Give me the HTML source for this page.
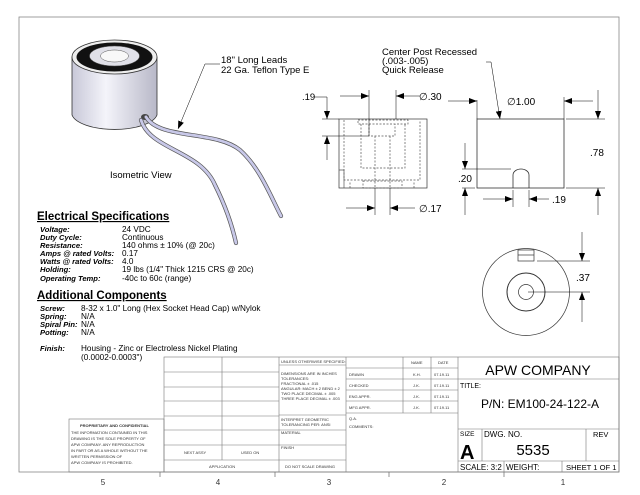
<!DOCTYPE html>
<html><head><meta charset="utf-8"><style>
body{margin:0;background:#fff}
svg{display:block;font-family:"Liberation Sans",sans-serif}
.t{font-size:4px;fill:#333}
</style></head><body>
<svg width="640" height="495" viewBox="0 0 640 495" xmlns="http://www.w3.org/2000/svg">
<defs>
<linearGradient id="cyl" x1="0" x2="1"><stop offset="0" stop-color="#c8c8d8"/><stop offset="0.4" stop-color="#f4f4fa"/><stop offset="1" stop-color="#b8b8c8"/></linearGradient>
<marker id="ar" markerWidth="8" markerHeight="6" refX="8" refY="3" orient="auto" markerUnits="userSpaceOnUse"><path d="M0,0L8,3L0,6z" fill="#000"/></marker>
</defs>
<rect x="19" y="17" width="600" height="455" fill="none" stroke="#888" stroke-width="0.8"/>
<g stroke="#666" stroke-width="0.7"><line x1="160" y1="472" x2="160" y2="477"/><line x1="275" y1="472" x2="275" y2="477"/><line x1="389" y1="472" x2="389" y2="477"/><line x1="504" y1="472" x2="504" y2="477"/></g>
<g font-size="8" fill="#333" text-anchor="middle"><text x="103" y="485">5</text><text x="218" y="485">4</text><text x="329" y="485">3</text><text x="444" y="485">2</text><text x="563" y="485">1</text></g>

<path d="M72,57 L72,115 A43,17 0 0 0 157,115 L157,57 Z" fill="url(#cyl)" stroke="#333" stroke-width="0.8"/>
<ellipse cx="114.5" cy="57" rx="42.5" ry="17" fill="#eee" stroke="#333" stroke-width="0.8"/>
<ellipse cx="114.5" cy="57" rx="38" ry="14.5" fill="#111"/>
<ellipse cx="114.5" cy="56" rx="25" ry="10" fill="#e0e0e8" stroke="#555" stroke-width="0.5"/>
<ellipse cx="114.5" cy="56" rx="14" ry="6" fill="#f8f8f8" stroke="#555" stroke-width="0.5"/>
<ellipse cx="145" cy="117" rx="4" ry="3" fill="#444"/>
<path d="M141,120 C150,150 200,150 215,185 C225,205 232,225 236,243" fill="none" stroke="#555" stroke-width="4.2" stroke-linecap="round"/>
<path d="M141,120 C150,150 200,150 215,185 C225,205 232,225 236,243" fill="none" stroke="#c8c8e8" stroke-width="2.8" stroke-linecap="round"/>
<path d="M146,117 C160,140 215,130 240,150 C260,168 270,195 281,216" fill="none" stroke="#555" stroke-width="4.2" stroke-linecap="round"/>
<path d="M146,117 C160,140 215,130 240,150 C260,168 270,195 281,216" fill="none" stroke="#c8c8e8" stroke-width="2.8" stroke-linecap="round"/>
<polyline points="220,64 205,64 178,129" fill="none" stroke="#000" stroke-width="0.5" marker-end="url(#ar)"/>
<text x="221" y="63" font-size="9.5">18" Long Leads</text>
<text x="221" y="73" font-size="9.5">22 Ga. Teflon Type E</text>
<text x="110" y="178" font-size="9.5">Isometric View</text>

<g fill="none" stroke="#333" stroke-width="0.7">
<rect x="339" y="119" width="88" height="69"/>
<g stroke-dasharray="2,1.5" stroke="#555">
<rect x="358" y="120" width="50" height="4"/>
<polyline points="361,124 361,168 405,168 405,124"/>
<polyline points="369,124 369,136 395,136 395,124"/>
<polyline points="375,136 375,187"/><polyline points="390,136 390,187"/>
<polyline points="344,120 344,180 420,180 420,120"/>
<polyline points="350,188 350,181"/><polyline points="414,188 414,181"/>
<rect x="363" y="181" width="39" height="7"/>
</g>
<polyline points="339,170 344,170 344,188" stroke="#555"/>
</g>
<g stroke="#000" stroke-width="0.5" fill="none">
<line x1="369" y1="90" x2="369" y2="136"/><line x1="396" y1="90" x2="396" y2="119"/>
<line x1="340" y1="96" x2="369" y2="96" marker-end="url(#ar)"/><line x1="420" y1="96" x2="396" y2="96" marker-end="url(#ar)"/>
<line x1="322" y1="119" x2="339" y2="119"/><line x1="322" y1="136" x2="369" y2="136"/>
<polyline points="314,97 327,97 327,119" marker-end="url(#ar)"/><line x1="327" y1="160" x2="327" y2="136" marker-end="url(#ar)"/>
<line x1="375" y1="188" x2="375" y2="215"/><line x1="390" y1="188" x2="390" y2="215"/>
<line x1="346" y1="208" x2="375" y2="208" marker-end="url(#ar)"/><line x1="415" y1="208" x2="390" y2="208" marker-end="url(#ar)"/>
</g>
<text x="302" y="100" font-size="9.5">.19</text>
<text x="419" y="100" font-size="10">∅.30</text>
<text x="419" y="212" font-size="10">∅.17</text>

<g fill="none" stroke="#333" stroke-width="0.8">
<rect x="477" y="119" width="87" height="69"/>
<path d="M513,188 L513,175 A8,6 0 0 1 529,175 L529,188"/>
</g>
<g stroke="#000" stroke-width="0.5" fill="none">
<line x1="477" y1="100" x2="477" y2="119"/><line x1="564" y1="97" x2="564" y2="119"/>
<line x1="448" y1="101" x2="477" y2="101" marker-end="url(#ar)"/><line x1="593" y1="101" x2="564" y2="101" marker-end="url(#ar)"/>
<line x1="566" y1="119" x2="605" y2="119"/><line x1="566" y1="188" x2="605" y2="188"/>
<line x1="598" y1="90" x2="598" y2="119" marker-end="url(#ar)"/><line x1="598" y1="215" x2="598" y2="188" marker-end="url(#ar)"/>
<line x1="462" y1="169" x2="511" y2="169"/><line x1="462" y1="188" x2="475" y2="188"/>
<line x1="465" y1="143" x2="465" y2="169" marker-end="url(#ar)"/><line x1="465" y1="215" x2="465" y2="188" marker-end="url(#ar)"/>
<line x1="513" y1="190" x2="513" y2="207"/><line x1="529" y1="190" x2="529" y2="207"/>
<line x1="483" y1="199" x2="513" y2="199" marker-end="url(#ar)"/><line x1="549" y1="199" x2="529" y2="199" marker-end="url(#ar)"/>
<polyline points="486,62 491,62 500,119" marker-end="url(#ar)"/>
</g>
<text x="382" y="55" font-size="9.5">Center Post Recessed</text>
<text x="382" y="64" font-size="9.5">(.003-.005)</text>
<text x="382" y="73" font-size="9.5">Quick Release</text>
<text x="507" y="105" font-size="10">∅1.00</text>
<text x="590" y="156" font-size="10">.78</text>
<text x="458" y="182" font-size="10">.20</text>
<text x="552" y="203" font-size="10">.19</text>

<g fill="none" stroke="#333" stroke-width="0.7">
<circle cx="526" cy="292" r="43.5"/>
<circle cx="526" cy="292" r="19" stroke-width="1"/>
<circle cx="526" cy="292" r="7.5"/>
<rect x="518" y="250" width="16" height="11"/><line x1="518" y1="255" x2="534" y2="255"/>
</g>
<g stroke="#000" stroke-width="0.5" fill="none">
<line x1="537" y1="261" x2="590" y2="261"/><line x1="528" y1="292" x2="590" y2="292"/>
<line x1="582" y1="232" x2="582" y2="261" marker-end="url(#ar)"/><line x1="582" y1="322" x2="582" y2="292" marker-end="url(#ar)"/>
</g>
<text x="576" y="281" font-size="10">.37</text>

<text x="37" y="220" font-size="11.5" font-weight="bold" text-decoration="underline">Electrical Specifications</text>
<g font-size="7.6" font-weight="bold" font-style="italic">
<text x="40" y="232">Voltage:</text><text x="40" y="240">Duty Cycle:</text><text x="40" y="248">Resistance:</text><text x="40" y="256">Amps @ rated Volts:</text><text x="40" y="264">Watts @ rated Volts:</text><text x="40" y="272">Holding:</text><text x="40" y="281">Operating Temp:</text>
</g>
<g font-size="8.2">
<text x="122" y="232">24 VDC</text><text x="122" y="240">Continuous</text><text x="122" y="248">140 ohms ± 10% (@ 20c)</text><text x="122" y="256">0.17</text><text x="122" y="264">4.0</text><text x="122" y="272">19 lbs (1/4" Thick 1215 CRS @ 20c)</text><text x="122" y="281">-40c to 60c (range)</text>
</g>
<text x="37" y="299" font-size="11.5" font-weight="bold" text-decoration="underline">Additional Components</text>
<g font-size="7.6" font-weight="bold" font-style="italic">
<text x="40" y="311">Screw:</text><text x="40" y="319">Spring:</text><text x="40" y="327">Spiral Pin:</text><text x="40" y="335">Potting:</text><text x="40" y="351">Finish:</text>
</g>
<g font-size="8.2">
<text x="81" y="311">8-32 x 1.0" Long (Hex Socket Head Cap) w/Nylok</text><text x="81" y="319">N/A</text><text x="81" y="327">N/A</text><text x="81" y="335">N/A</text>
<text x="81" y="351">Housing - Zinc or Electroless Nickel Plating</text><text x="81" y="360">(0.0002-0.0003")</text>
</g>

<g fill="none" stroke="#777" stroke-width="0.6">
<rect x="164" y="357" width="455" height="115"/>
<rect x="69" y="419" width="95" height="53"/>
<line x1="222" y1="357" x2="222" y2="460"/>
<line x1="279" y1="357" x2="279" y2="472"/>
<line x1="346" y1="357" x2="346" y2="472"/>
<line x1="403" y1="357" x2="403" y2="413"/>
<line x1="431" y1="357" x2="431" y2="413"/>
<line x1="458" y1="357" x2="458" y2="472"/>
<line x1="164" y1="372" x2="279" y2="372"/><line x1="164" y1="387" x2="279" y2="387"/><line x1="164" y1="401" x2="279" y2="401"/><line x1="164" y1="416" x2="279" y2="416"/><line x1="164" y1="430" x2="279" y2="430"/><line x1="164" y1="445" x2="279" y2="445"/><line x1="164" y1="460" x2="346" y2="460"/>
<line x1="279" y1="365" x2="346" y2="365"/><line x1="279" y1="415" x2="346" y2="415"/><line x1="279" y1="430" x2="346" y2="430"/><line x1="279" y1="445" x2="346" y2="445"/>
<line x1="346" y1="368" x2="458" y2="368"/><line x1="346" y1="379" x2="458" y2="379"/><line x1="346" y1="390" x2="458" y2="390"/><line x1="346" y1="401" x2="458" y2="401"/><line x1="346" y1="413" x2="458" y2="413"/>
<line x1="458" y1="379" x2="619" y2="379"/><line x1="458" y1="429" x2="619" y2="429"/><line x1="458" y1="461" x2="619" y2="461"/>
<line x1="482" y1="429" x2="482" y2="461"/><line x1="586" y1="429" x2="586" y2="461"/>
<line x1="504" y1="461" x2="504" y2="472"/><line x1="562" y1="461" x2="562" y2="472"/>
</g>
<g class="t">
<text x="281" y="363">UNLESS OTHERWISE SPECIFIED:</text>
<text x="281" y="375">DIMENSIONS ARE IN INCHES</text><text x="281" y="380">TOLERANCES:</text><text x="281" y="385">FRACTIONAL ± .015</text><text x="281" y="390">ANGULAR: MACH ± 2  BEND ± 2</text><text x="281" y="395">TWO PLACE DECIMAL  ± .005</text><text x="281" y="400">THREE PLACE DECIMAL ± .003</text>
<text x="281" y="421">INTERPRET GEOMETRIC</text><text x="281" y="426">TOLERANCING PER: ANSI</text>
<text x="281" y="434">MATERIAL</text><text x="281" y="449">FINISH</text>
<text x="285" y="468">DO NOT SCALE DRAWING</text>
<text x="184" y="454">NEXT ASSY</text><text x="241" y="454">USED ON</text><text x="209" y="468">APPLICATION</text>
<text x="411" y="364">NAME</text><text x="438" y="364">DATE</text>
<text x="349" y="376">DRAWN</text><text x="349" y="387">CHECKED</text><text x="349" y="398">ENG APPR.</text><text x="349" y="409">MFG APPR.</text><text x="349" y="420">Q.A.</text><text x="349" y="428">COMMENTS:</text>
<text x="413" y="376">K.H.</text><text x="413" y="387">J.K.</text><text x="413" y="398">J.K.</text><text x="413" y="409">J.K.</text>
<text x="434" y="376">07.19.11</text><text x="434" y="387">07.19.11</text><text x="434" y="398">07.19.11</text><text x="434" y="409">07.19.11</text>
<text x="80" y="427" font-weight="bold">PROPRIETARY AND CONFIDENTIAL</text>
<text x="71" y="434">THE INFORMATION CONTAINED IN THIS</text><text x="71" y="440">DRAWING IS THE SOLE PROPERTY OF</text><text x="71" y="446">APW COMPANY.  ANY  REPRODUCTION</text><text x="71" y="452">IN PART OR AS A WHOLE WITHOUT THE</text><text x="71" y="458">WRITTEN PERMISSION OF</text><text x="71" y="464">APW COMPANY IS PROHIBITED.</text>
</g>
<text x="538" y="375" font-size="14" text-anchor="middle">APW COMPANY</text>
<text x="460" y="388" font-size="7">TITLE:</text>
<text x="540" y="408" font-size="12" text-anchor="middle">P/N: EM100-24-122-A</text>
<text x="460" y="436" font-size="6.5">SIZE</text>
<text x="460" y="459" font-size="20" font-weight="bold">A</text>
<text x="484" y="437" font-size="8">DWG.  NO.</text>
<text x="533" y="455" font-size="15" text-anchor="middle">5535</text>
<text x="593" y="437" font-size="7.5">REV</text>
<text x="460" y="470" font-size="8">SCALE: 3:2</text>
<text x="506" y="470" font-size="8">WEIGHT:</text>
<text x="566" y="470" font-size="7.6">SHEET 1 OF 1</text>
</svg>
</body></html>
